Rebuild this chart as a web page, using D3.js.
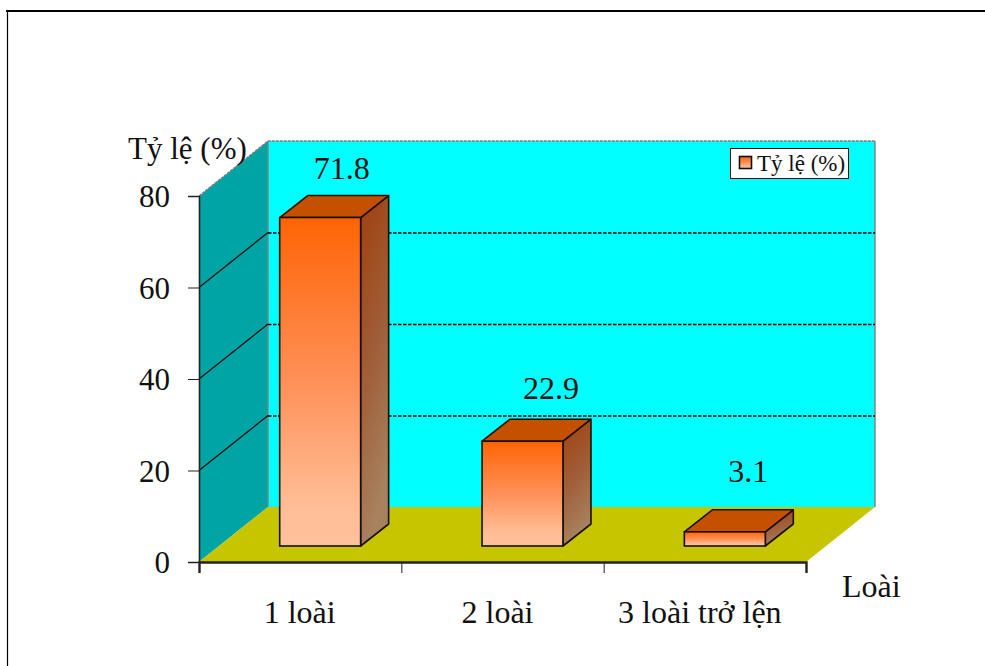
<!DOCTYPE html>
<html lang="vi">
<head>
<meta charset="utf-8">
<script src="https://cdn.jsdelivr.net/npm/d3@7/dist/d3.min.js"></script>
<style>
  html, body { margin: 0; background: #fff; }
  svg { display: block; }
  text { font-family: "Liberation Serif", serif; fill: #111; }
</style>
</head>
<body>
<svg id="chart" width="985" height="666"></svg>
<script>
// Species-count shares
const categories = ["1 loài", "2 loài", "3 loài trở lện"];
const shares = [71.8, 22.9, 3.1];
const yTicks = [0, 20, 40, 60, 80];
const seriesName = "Tỷ lệ (%)";
const xAxisName = "Loài";

const svg = d3.select("#chart");

// 3-D box geometry: the room's depth vector and the bars' depth vector
const room = { dx: 69, dy: -55 };
const barDepth = { dx: 28, dy: -22 };
const barInset = { dx: 20, dy: -16 };

const x = d3.scaleBand().domain(categories).range([199, 806]).paddingInner(0.6).paddingOuter(0.3);
const y = d3.scaleLinear().domain([0, 80]).range([562, 196]);
const poly = pts => pts.map(p => p.join(",")).join(" ");

// Gradients for bar faces and the legend swatch
const defs = svg.append("defs");
function gradient(id, stops, x2, y2) {
  const g = defs.append("linearGradient").attr("id", id)
    .attr("x1", 0).attr("y1", 0).attr("x2", x2).attr("y2", y2);
  stops.forEach(([o, c]) => g.append("stop").attr("offset", o).attr("stop-color", c));
}
gradient("front", [[0, "#ff6405"], [0.5, "#ff9058"], [0.88, "#ffbe96"], [1, "#ffc19b"]], 0, 1);
gradient("side", [[0, "#a03f0c"], [0.55, "#a05f3a"], [1, "#a8825f"]], 0.25, 1);

// Frame around the figure
svg.append("line").attr("x1", 6).attr("x2", 985).attr("y1", 11).attr("y2", 11)
  .attr("stroke", "#000").attr("stroke-width", 2);
svg.append("line").attr("x1", 7.5).attr("x2", 7.5).attr("y1", 11).attr("y2", 666)
  .attr("stroke", "#000").attr("stroke-width", 1.2);

const [x0, x1] = x.range();
const yBase = y(0), yTop = y(80);

// Back wall
svg.append("rect")
  .attr("x", x0 + room.dx).attr("y", yTop + room.dy)
  .attr("width", x1 - x0).attr("height", yBase - yTop)
  .attr("fill", "#00ffff");
// Left wall
svg.append("polygon")
  .attr("points", poly([[x0, yBase], [x0, yTop], [x0 + room.dx, yTop + room.dy], [x0 + room.dx, yBase + room.dy]]))
  .attr("fill", "#00a4a4");
// Floor
svg.append("polygon")
  .attr("points", poly([[x0, yBase], [x0 + room.dx, yBase + room.dy], [x1 + room.dx, yBase + room.dy], [x1, yBase]]))
  .attr("fill", "#c6c500");

// Room edges in grey
const edges = svg.append("g").attr("stroke", "#808080").attr("fill", "none").attr("stroke-width", 1.4);
edges.append("polyline")
  .attr("points", poly([[x0 + room.dx, yBase + room.dy], [x0 + room.dx, yTop + room.dy]]));
edges.append("polyline")
  .attr("points", poly([[x1 + room.dx, yTop + room.dy], [x1 + room.dx, yBase + room.dy]]));
edges.append("polyline").attr("stroke-dasharray", "3,1")
  .attr("points", poly([[x0, yTop], [x0 + room.dx, yTop + room.dy], [x1 + room.dx, yTop + room.dy]]));

// Gridlines: solid along the side wall, dashed along the back wall
const grid = svg.append("g");
yTicks.filter(t => t > 0 && t < 80).forEach(t => {
  grid.append("line")
    .attr("x1", x0).attr("y1", y(t))
    .attr("x2", x0 + room.dx).attr("y2", y(t) + room.dy)
    .attr("stroke", "#021414").attr("stroke-width", 1.4);
  grid.append("line")
    .attr("x1", x0 + room.dx).attr("y1", y(t) + room.dy + 0.5)
    .attr("x2", x1 + room.dx).attr("y2", y(t) + room.dy + 0.5)
    .attr("stroke", "#000").attr("stroke-width", 1.3).attr("stroke-dasharray", "3.5,1.5");
});

// Axes
const yAxis = svg.append("g").attr("transform", `translate(${x0},0)`)
  .call(d3.axisLeft(y).tickValues(yTicks).tickSize(11).tickPadding(18).tickFormat(d3.format("d")));
const xEdges = d3.range(categories.length + 1).map(i => x0 + i * x.step());
const xAxis = svg.append("g").attr("transform", `translate(0,${yBase})`)
  .call(d3.axisBottom(d3.scaleLinear().domain([x0, x1]).range([x0, x1]))
    .tickValues(xEdges).tickSize(11).tickFormat(""));
[yAxis, xAxis].forEach(a => a.selectAll("line, path").attr("stroke", "#222"));
xAxis.select("path").attr("stroke-width", 2.4);
yAxis.select("path").attr("stroke-width", 1.6);
yAxis.selectAll("text").attr("font-size", 31).attr("fill", "#111")
  .style("font-family", '"Liberation Serif", serif').attr("dy", "0.34em");

// Bars as three-faced boxes
const bars = svg.append("g").selectAll("g").data(categories).join("g")
  .datum((c, i) => ({ c, v: shares[i] }));
const bw = x.bandwidth();
const bx = d => x(d.c) + barInset.dx;
const by = d => y(d.v) + barInset.dy;
const bb = yBase + barInset.dy;

bars.append("polygon").attr("fill", "url(#side)")
  .attr("stroke", "#1c1005").attr("stroke-width", 1.6).attr("stroke-linejoin", "round")
  .attr("points", d => poly([
    [bx(d) + bw, bb], [bx(d) + bw, by(d)],
    [bx(d) + bw + barDepth.dx, by(d) + barDepth.dy],
    [bx(d) + bw + barDepth.dx, bb + barDepth.dy]]));
bars.append("polygon").attr("fill", "#c45000")
  .attr("stroke", "#1c0e00").attr("stroke-width", 1.6).attr("stroke-linejoin", "round")
  .attr("points", d => poly([
    [bx(d), by(d)], [bx(d) + barDepth.dx, by(d) + barDepth.dy],
    [bx(d) + bw + barDepth.dx, by(d) + barDepth.dy], [bx(d) + bw, by(d)]]));
bars.append("rect").attr("fill", "url(#front)")
  .attr("stroke", "#141008").attr("stroke-width", 1.6)
  .attr("x", bx).attr("y", by).attr("width", bw).attr("height", d => bb - by(d));

// Value labels above each bar
const valueNudge = [[21.5, -39], [28.5, -42], [23.5, -49.5]];
svg.append("g").selectAll("text").data(shares).join("text")
  .attr("text-anchor", "middle").attr("font-size", 32)
  .attr("x", (v, i) => x(categories[i]) + barInset.dx + bw / 2 + valueNudge[i][0])
  .attr("y", v => y(v) + barInset.dy)
  .attr("dy", (v, i) => valueNudge[i][1])
  .text(v => v);

// Category labels
const labelNudge = [-0.5, -5, -5];
svg.append("g").selectAll("text").data(categories).join("text")
  .attr("text-anchor", "middle").attr("font-size", 32)
  .attr("x", (c, i) => x(c) + bw / 2 + labelNudge[i])
  .attr("y", yBase + 61)
  .text(c => c);

// Axis names
svg.append("text").attr("x", 128).attr("y", 159).attr("font-size", 31).text(seriesName);
svg.append("text").attr("x", 842).attr("y", 597).attr("font-size", 32).text(xAxisName);

// Legend
const legend = svg.append("g");
legend.append("rect").attr("x", 730.5).attr("y", 148.5).attr("width", 118).attr("height", 30)
  .attr("fill", "#fff").attr("stroke", "#111").attr("stroke-width", 1);
legend.append("rect").attr("x", 739.5).attr("y", 156.5).attr("width", 12).attr("height", 12)
  .attr("fill", "url(#front)").attr("stroke", "#111").attr("stroke-width", 1.6);
legend.append("text").attr("x", 757).attr("y", 171).attr("font-size", 23).text(seriesName);
</script>
</body>
</html>
